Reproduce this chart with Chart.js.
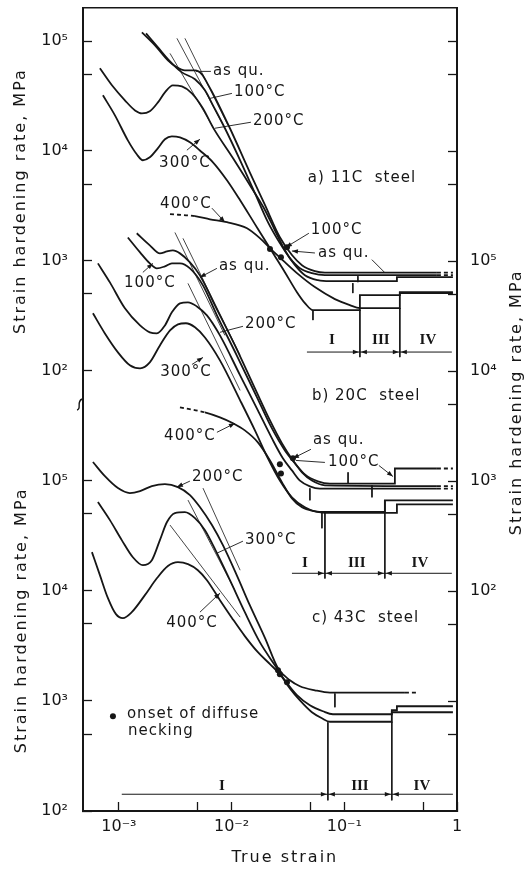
<!DOCTYPE html>
<html>
<head>
<meta charset="utf-8">
<title>Strain hardening rate vs true strain</title>
<script src="https://cdn.jsdelivr.net/npm/chart.js@4.4.1/dist/chart.umd.min.js"></script>
<style>
  body { margin: 0; background: #fff; }
  canvas { display: block; }
</style>
</head>
<body>
<canvas id="chart" width="527" height="869"></canvas>
<script>
const INK = '#161616';
const FONT = '"DejaVu Sans", sans-serif';

// tick values
const strainTicks = [1e-3, 5e-3, 1e-2, 5e-2, 1e-1, 5e-1, 1];
const leftTicks = [1e2, 5e2, 1e3, 5e3, 1e4, 5e4, 1e5];
const rightTicks = [5, 1e1, 5e1, 1e2, 5e2, 1e3, 5e3, 1e4, 5e4, 1e5, 5e5, 1e6, 5e6, 1e7];

// a) 11C steel  [true strain, hardening rate MPa]
const a_asQu = [[1.60e-3,1.20e5],[2.09e-3,9.14e4],[2.72e-3,6.68e4],[3.27e-3,5.77e4],[3.85e-3,5.41e4],[4.73e-3,5.41e4],[5.45e-3,4.98e4],[6.16e-3,4.04e4],[7.11e-3,3.08e4],[9.66e-3,1.61e4],[1.45e-2,6.40e3],[1.98e-2,3.21e3],[2.68e-2,1.64e3],[3.43e-2,1.13e3],[4.21e-2,914],[5.48e-2,806],[6.73e-2,781],[0.663,781],[0.92,781]];
const a_100 = [[1.74e-3,1.175e5],[2.22e-3,8.76e4],[2.84e-3,6.54e4],[3.62e-3,5.19e4],[4.73e-3,4.49e4],[5.80e-3,3.56e4],[6.83e-3,2.60e4],[8.72e-3,1.61e4],[1.19e-2,8.23e3],[1.61e-2,4.13e3],[2.10e-2,2.25e3],[2.68e-2,1.45e3],[3.29e-2,1.06e3],[4.04e-2,858],[5.16e-2,773],[6.73e-2,741],[0.663,741],[0.92,741]];
const a_200 = [[6.78e-4,5.65e4],[8.67e-4,3.96e4],[1.13e-3,2.89e4],[1.39e-3,2.34e4],[1.60e-3,2.20e4],[1.88e-3,2.30e4],[2.22e-3,2.77e4],[2.56e-3,3.42e4],[3.01e-3,3.96e4],[3.62e-3,3.87e4],[4.44e-3,3.35e4],[5.57e-3,2.44e4],[6.83e-3,1.64e4],[1.03e-2,8.58e3],[1.55e-2,4.39e3],[1.98e-2,2.89e3],[2.42e-2,1.90e3],[2.97e-2,1.25e3],[3.65e-2,914],[4.47e-2,741],[5.83e-2,668],[7.45e-2,654],[0.293,654],[0.293,711],[0.92,711]];
const a_300 = [[7.21e-4,3.21e4],[9.22e-4,2.11e4],[1.20e-3,1.25e4],[1.44e-3,9.33e3],[1.63e-3,8.23e3],[1.88e-3,8.76e3],[2.22e-3,1.06e4],[2.56e-3,1.28e4],[2.95e-3,1.36e4],[3.48e-3,1.33e4],[4.27e-3,1.20e4],[5.23e-3,1.01e4],[6.83e-3,7.89e3],[9.09e-3,5.42e3],[1.19e-2,3.56e3],[1.61e-2,2.16e3],[2.19e-2,1.30e3],[2.97e-2,789],[3.80e-2,519],[4.47e-2,413],[5.27e-2,356],[0.1375,356],[0.1375,488],[0.311,488],[0.311,519],[0.92,519]];
const a_400 = [[2.84e-3,2.66e3],[4.73e-3,2.55e3],[6.42e-3,2.39e3],[9.09e-3,2.25e3],[1.37e-2,1.98e3],[1.78e-2,1.61e3],[2.28e-2,1.25e3],[2.85e-2,1.01e3],[3.80e-2,773],[5.48e-2,577],[8.25e-2,449],[0.112,396],[0.1375,372],[0.311,372],[0.311,509],[0.92,509]];
const a_neck = [[2.19e-2,1.28e3],[2.74e-2,1.08e3],[3.10e-2,1.33e3]];
const a_tangents = [[2.84e-3,7.73e4],[7.11e-3,1.54e4],null,[3.27e-3,1.06e5],[8.72e-3,1.61e4],null,[3.85e-3,1.06e5],[9.27e-3,1.71e4]];
const a_guides = [[0.1375,356],[0.1375,133],null,[0.311,372],[0.311,133],null,[4.66e-2,148],[0.90,148],null,[0.132,726],[0.132,640],null,[0.119,627],[0.119,509],null,[5.27e-2,356],[5.27e-2,289]];

// b) 20C steel
const b_asQu = [[1.44e-3,1.79e5],[1.88e-3,1.39e5],[2.31e-3,1.175e5],[2.67e-3,1.225e5],[3.01e-3,1.25e5],[3.48e-3,1.175e5],[4.27e-3,9.73e4],[5.23e-3,7.41e4],[7.11e-3,3.96e4],[1.07e-2,1.71e4],[1.61e-2,6.96e3],[2.19e-2,3.56e3],[2.80e-2,2.20e3],[3.50e-2,1.54e3],[4.21e-2,1.20e3],[5.16e-2,1.01e3],[6.73e-2,914],[0.663,900],[0.92,900]];
const b_100 = [[1.20e-3,1.64e5],[1.54e-3,1.20e5],[1.88e-3,9.53e4],[2.17e-3,8.58e4],[2.56e-3,8.95e4],[2.95e-3,9.53e4],[3.48e-3,9.53e4],[4.27e-3,8.58e4],[5.57e-3,6.01e4],[7.41e-3,3.21e4],[1.11e-2,1.39e4],[1.68e-2,5.77e3],[2.28e-2,3.01e3],[2.97e-2,1.90e3],[3.65e-2,1.45e3],[4.47e-2,1.15e3],[5.83e-2,994],[7.45e-2,947],[0.281,947],[0.281,1.30e3],[0.663,1.30e3],[0.92,1.30e3]];
const b_200 = [[6.51e-4,9.53e4],[8.32e-4,6.40e4],[1.13e-3,3.72e4],[1.54e-3,2.60e4],[1.88e-3,2.25e4],[2.17e-3,2.20e4],[2.56e-3,2.60e4],[2.95e-3,3.42e4],[3.48e-3,4.13e4],[4.10e-3,4.22e4],[4.92e-3,3.87e4],[6.04e-3,3.21e4],[7.88e-3,2.11e4],[1.19e-2,9.14e3],[1.71e-2,4.39e3],[2.28e-2,2.44e3],[2.85e-2,1.61e3],[3.43e-2,1.25e3],[4.04e-2,1.01e3],[4.95e-2,895],[6.07e-2,853],[0.663,853],[0.92,853]];
const b_300 = [[5.88e-4,3.35e4],[7.51e-4,2.20e4],[9.80e-4,1.48e4],[1.25e-3,1.13e4],[1.54e-3,1.06e4],[1.88e-3,1.20e4],[2.31e-3,1.71e4],[2.84e-3,2.34e4],[3.34e-3,2.66e4],[3.93e-3,2.72e4],[4.73e-3,2.50e4],[5.80e-3,2.02e4],[7.88e-3,1.25e4],[1.19e-2,5.42e3],[1.61e-2,2.89e3],[2.10e-2,1.61e3],[2.68e-2,1.01e3],[3.43e-2,711],[4.47e-2,577],[6.07e-2,523],[0.229,523],[0.229,668],[0.92,668]];
const b_400 = [[3.48e-3,4.68e3],[5.80e-3,4.21e3],[7.88e-3,3.79e3],[1.03e-2,3.35e3],[1.31e-2,2.89e3],[1.71e-2,2.25e3],[2.19e-2,1.54e3],[2.80e-2,973],[3.43e-2,696],[4.21e-2,577],[5.48e-2,530],[6.73e-2,514],[0.293,514],[0.293,614],[0.92,614]];
const b_neck = [[2.68e-2,1.42e3],[2.74e-2,1.17e3],[3.50e-2,1.61e3]];
const b_tangents = [[3.14e-3,1.82e5],[8.72e-3,2.11e4],null,[3.70e-3,1.61e5],[1.19e-2,1.39e4],null,[4.10e-3,6.27e4],[1.19e-2,6.67e3]];
const b_guides = [[6.73e-2,519],[6.73e-2,130],null,[0.229,668],[0.229,130],null,[3.43e-2,145],[0.90,145],null,[0.108,1.20e3],[0.108,953],null,[0.176,914],[0.176,711],null,[4.95e-2,858],[4.95e-2,668],null,[6.33e-2,519],[6.33e-2,372]];

// c) 43C steel
const c_200 = [[5.88e-4,1.48e5],[7.51e-4,1.10e5],[9.80e-4,8.58e4],[1.25e-3,7.73e4],[1.54e-3,8.06e4],[1.96e-3,8.95e4],[2.56e-3,9.33e4],[3.34e-3,8.76e4],[4.27e-3,7.41e4],[5.23e-3,5.77e4],[6.69e-3,3.96e4],[8.37e-3,2.60e4],[1.11e-2,1.39e4],[1.45e-2,7.41e3],[1.98e-2,3.72e3],[2.58e-2,1.98e3],[3.29e-2,1.54e3],[4.04e-2,1.36e3],[5.48e-2,1.25e3],[7.45e-2,1.19e3],[0.345,1.19e3],[0.441,1.19e3]];
const c_300 = [[6.51e-4,6.40e4],[8.32e-4,4.39e4],[1.06e-3,2.89e4],[1.33e-3,2.02e4],[1.63e-3,1.71e4],[1.96e-3,1.90e4],[2.31e-3,2.89e4],[2.67e-3,4.22e4],[3.14e-3,5.09e4],[3.85e-3,5.19e4],[4.73e-3,4.58e4],[5.80e-3,3.56e4],[7.41e-3,2.20e4],[9.66e-3,1.25e4],[1.31e-2,6.40e3],[1.78e-2,3.42e3],[2.42e-2,2.11e3],[2.97e-2,1.54e3],[3.80e-2,1.13e3],[4.95e-2,914],[6.46e-2,806],[7.92e-2,757],[0.264,757],[0.264,823],[0.293,823],[0.293,895],[0.92,895]];
const c_400 = [[5.76e-4,2.25e4],[6.78e-4,1.39e4],[7.99e-4,8.58e3],[9.41e-4,6.14e3],[1.085e-3,5.65e3],[1.30e-3,6.40e3],[1.70e-3,9.14e3],[2.17e-3,1.30e4],[2.72e-3,1.68e4],[3.34e-3,1.82e4],[4.10e-3,1.75e4],[5.02e-3,1.54e4],[6.04e-3,1.25e4],[7.88e-3,8.23e3],[1.01e-2,5.65e3],[1.31e-2,3.88e3],[1.71e-2,2.77e3],[2.19e-2,2.16e3],[2.68e-2,1.75e3],[3.29e-2,1.30e3],[4.04e-2,1.01e3],[5.16e-2,789],[6.33e-2,696],[7.45e-2,647],[0.264,647],[0.264,789],[0.92,789]];
const c_neck = [[2.58e-2,1.90e3],[2.68e-2,1.75e3],[3.10e-2,1.48e3]];
const c_tangents = [[5.57e-3,8.58e4],[1.19e-2,1.54e4],null,[4.10e-3,6.68e4],[1.07e-2,1.01e4],null,[2.84e-3,3.96e4],[1.19e-2,5.77e3]];
const c_guides = [[7.15e-2,640],[7.15e-2,125],null,[0.264,647],[0.264,125],null,[1.06e-3,142],[0.92,142],null,[8.25e-2,1.17e3],[8.25e-2,876]];
const neckKey = [[8.85e-4,726]];

// stage regions: boundary strains and the level of the marker line
const stageNames = ['I', 'III', 'IV'];
const stagesA = { axis: 'yA', y: 148, bounds: [0.1375, 0.311], labelX: [7.76e-2, 0.211, 0.552], labelY: 190 };
const stagesB = { axis: 'yB', y: 145, bounds: [6.73e-2, 0.229], labelX: [4.47e-2, 0.129, 0.469], labelY: 179 };
const stagesC = { axis: 'yC', y: 142, bounds: [7.15e-2, 0.264], labelX: [8.2e-3, 0.1375, 0.488], labelY: 168 };

// labels: point on the curve, text offset and leader start (px)
const notes = [
  { axis: 'yA', at: [4.82e-3, 5.3e4], text: 'as qu.', dx: 17, dy: 0, lead: [15, 0] },
  { axis: 'yA', at: [6.42e-3, 3.01e4], text: '100°C', dx: 24, dy: -6, lead: [22, -5] },
  { axis: 'yA', at: [7.11e-3, 1.61e4], text: '200°C', dx: 38, dy: -7, lead: [36, -6] },
  { axis: 'yA', at: [5.23e-3, 1.28e4], text: '300°C', dx: -15, dy: 24, align: 'center', lead: [-13, 11], arrow: true },
  { axis: 'yA', at: [8.72e-3, 2.25e3], text: '400°C', dx: -39, dy: -18, align: 'center', lead: [-13, -14], arrow: true },
  { axis: 'yA', at: [3.03e-2, 1.33e3], text: '100°C', dx: 25, dy: -17, lead: [23, -14], arrow: true },
  { axis: 'yA', at: [3.43e-2, 1.23e3], text: 'as qu.', dx: 26, dy: 2, lead: [23, 2], arrow: true },
  { axis: 'yA', at: [0.229, 781], text: '', lead: [-13, -13] },
  { axis: 'yA', at: [4.75e-2, 5.65e3], text: 'a) 11C  steel' },

  { axis: 'yB', at: [2.0e-3, 9.53e4], text: '100°C', dx: -3, dy: 20, align: 'center', lead: [-10, 9], arrow: true },
  { axis: 'yB', at: [5.23e-3, 7.11e4], text: 'as qu.', dx: 19, dy: -11, lead: [17, -9], arrow: true },
  { axis: 'yB', at: [7.88e-3, 2.25e4], text: '200°C', dx: 25, dy: -8, lead: [23, -6] },
  { axis: 'yB', at: [5.57e-3, 1.33e4], text: '300°C', dx: -17, dy: 15, align: 'center', lead: [-11, 7], arrow: true },
  { axis: 'yB', at: [5.16e-2, 5.89e3], text: 'b) 20C  steel' },
  { axis: 'yB', at: [1.07e-2, 3.35e3], text: '400°C', dx: -45, dy: 13, align: 'center', lead: [-18, 9], arrow: true },
  { axis: 'yB', at: [3.5e-2, 1.61e3], text: 'as qu.', dx: 20, dy: -18, lead: [18, -9], arrow: true },
  { axis: 'yB', at: [3.72e-2, 1.54e3], text: '100°C', dx: 32, dy: 2, lead: [29, 2] },
  { axis: 'yB', at: [0.27, 1.10e3], text: '', lead: [-14, -11], arrow: true },

  { axis: 'yC', at: [3.27e-3, 8.76e4], text: '200°C', dx: 15, dy: -10, lead: [13, -6], arrow: true },
  { axis: 'yC', at: [7.41e-3, 2.2e4], text: '300°C', dx: 28, dy: -13, lead: [26, -12] },
  { axis: 'yC', at: [7.88e-3, 9.53e3], text: '400°C', dx: -28, dy: 30, align: 'center', lead: [-20, 19], arrow: true },
  { axis: 'yC', at: [5.16e-2, 5.65e3], text: 'c) 43C  steel' }
];

const SUP = { '-': '⁻', '0': '⁰', '1': '¹', '2': '²', '3': '³', '4': '⁴', '5': '⁵', '6': '⁶', '7': '⁷', '8': '⁸', '9': '⁹' };
function powLabel(v, lo, hi) {
  const e = Math.log10(v), n = Math.round(e);
  if (Math.abs(e - n) > 1e-6 || v < lo * 0.999 || v > hi * 1.001) return '';
  return n === 0 ? '1' : '10' + String(n).split('').map(c => SUP[c]).join('');
}

function toPoints(pts) {
  let lastX = pts[0][0];
  return pts.map(p => {
    if (!p) return { x: lastX, y: null };
    lastX = p[0];
    return { x: p[0], y: p[1] };
  });
}

function curve(pts, axis, head, tail) {
  const n = pts.length - 1;
  head = head || 0; tail = tail || 0;
  return {
    data: toPoints(pts), xAxisID: 'x', yAxisID: axis,
    borderColor: INK, borderWidth: 1.8, pointRadius: 0,
    cubicInterpolationMode: 'monotone',
    segment: { borderDash: ctx => (ctx.p0DataIndex < head || ctx.p0DataIndex >= n - tail) ? [4, 3] : undefined }
  };
}
function thin(pts, axis, width) {
  return { data: toPoints(pts), xAxisID: 'x', yAxisID: axis, borderColor: INK, borderWidth: width, pointRadius: 0, tension: 0 };
}
function dots(pts, axis) {
  return { data: toPoints(pts), xAxisID: 'x', yAxisID: axis, showLine: false, pointRadius: 3, pointBackgroundColor: INK, pointBorderColor: INK, pointBorderWidth: 0 };
}

function arrowHead(ctx, x0, y0, x1, y1, len, half) {
  const a = Math.atan2(y1 - y0, x1 - x0), c = Math.cos(a), s = Math.sin(a);
  ctx.beginPath();
  ctx.moveTo(x1, y1);
  ctx.lineTo(x1 - len * c + half * s, y1 - len * s - half * c);
  ctx.lineTo(x1 - len * c - half * s, y1 - len * s + half * c);
  ctx.closePath();
  ctx.fill();
}

// texts, leaders, stage marks and the axis break
const notesPlugin = {
  id: 'notes',
  afterDraw(chart) {
    const { ctx, scales } = chart;
    const sx = scales.x;
    ctx.save();
    ctx.fillStyle = INK;
    ctx.strokeStyle = INK;
    ctx.lineWidth = 0.9;
    ctx.textBaseline = 'middle';
    ctx.font = '15px ' + FONT;
    ctx.letterSpacing = '1px';

    notes.forEach(n => {
      const tx = sx.getPixelForValue(n.at[0]), ty = scales[n.axis].getPixelForValue(n.at[1]);
      if (n.lead) {
        const lx = tx + n.lead[0], ly = ty + n.lead[1];
        ctx.beginPath(); ctx.moveTo(lx, ly); ctx.lineTo(tx, ty); ctx.stroke();
        if (n.arrow) arrowHead(ctx, lx, ly, tx, ty, 6, 2.3);
      }
      if (n.text) {
        ctx.textAlign = n.align || 'left';
        ctx.fillText(n.text, tx + (n.dx || 0), ty + (n.dy || 0));
      }
    });

    // necking key
    const kx = sx.getPixelForValue(neckKey[0][0]), ky = scales.yC.getPixelForValue(neckKey[0][1]);
    ctx.textAlign = 'left';
    ctx.fillText('onset of diffuse', kx + 14, ky - 2);
    ctx.fillText('necking', kx + 15, ky + 15);

    // stage numerals and arrows
    ctx.font = 'bold 15px "Liberation Serif", serif';
    ctx.letterSpacing = '0px';
    ctx.textAlign = 'center';
    [stagesA, stagesB, stagesC].forEach(st => {
      const ys = scales[st.axis];
      const ly = ys.getPixelForValue(st.labelY);
      st.labelX.forEach((v, i) => ctx.fillText(stageNames[i], sx.getPixelForValue(v), ly));
      const ay = ys.getPixelForValue(st.y);
      st.bounds.forEach(b => {
        const bx = sx.getPixelForValue(b);
        arrowHead(ctx, bx - 9, ay, bx - 1, ay, 6, 2.2);
        arrowHead(ctx, bx + 9, ay, bx + 1, ay, 6, 2.2);
      });
    });

    // axis titles
    ctx.font = '16px ' + FONT;
    ctx.letterSpacing = '2px';
    const title = 'Strain hardening rate, MPa';
    const vText = (x, y) => {
      ctx.save(); ctx.translate(x, y); ctx.rotate(-Math.PI / 2);
      ctx.fillText(title, 0, 0); ctx.restore();
    };
    vText(scales.yA.left + 21, scales.yA.getPixelForValue(3.5e3));
    vText(scales.yC.left + 22, scales.yC.getPixelForValue(5.4e3));
    vText(scales.yB.right - 10, scales.yB.getPixelForValue(5.2e3));
    ctx.fillText('True strain', sx.getPixelForValue(2.97e-2), sx.bottom - 11);

    // break in the left axis between the two scales
    const bx = scales.yA.right, by = scales.yA.bottom;
    ctx.lineWidth = 1.4;
    ctx.beginPath();
    ctx.moveTo(bx - 6, by + 5);
    ctx.bezierCurveTo(bx - 1, by + 4, bx - 7, by - 3, bx - 1, by - 6);
    ctx.stroke();

    ctx.letterSpacing = '0px';
    ctx.restore();
  }
};

function fixTicks(list) {
  return scale => { scale.ticks = list.map(v => ({ value: v })); };
}
const gridOpts = { drawOnChartArea: false, drawTicks: true, tickLength: -9, tickWidth: 1.3, tickColor: INK };
const tickFont = { family: FONT, size: 16 };

Chart.defaults.font.family = FONT;
Chart.defaults.color = INK;

new Chart(document.getElementById('chart'), {
  type: 'line',
  data: {
    datasets: [
      curve(a_asQu, 'yA', 0, 1), curve(a_100, 'yA', 0, 1), curve(a_200, 'yA'), curve(a_300, 'yA'), curve(a_400, 'yA', 1, 0),
      curve(b_asQu, 'yB', 0, 1), curve(b_100, 'yB', 0, 1), curve(b_200, 'yB', 0, 1), curve(b_300, 'yB'), curve(b_400, 'yB', 1, 0),
      curve(c_200, 'yC', 0, 1), curve(c_300, 'yC'), curve(c_400, 'yC'),
      thin(a_tangents, 'yA', 0.8), thin(b_tangents, 'yB', 0.8), thin(c_tangents, 'yC', 0.8),
      thin(a_guides, 'yA', 1), thin(b_guides, 'yB', 1), thin(c_guides, 'yC', 1),
      dots(a_neck, 'yA'), dots(b_neck, 'yB'), dots(c_neck, 'yC'), dots(neckKey, 'yC')
    ]
  },
  options: {
    responsive: false,
    animation: false,
    events: [],
    layout: { padding: 0, autoPadding: false },
    plugins: { legend: { display: false }, tooltip: { enabled: false } },
    scales: {
      x: {
        type: 'logarithmic', position: 'bottom', min: 4.8e-4, max: 1, bounds: 'data',
        afterBuildTicks: fixTicks(strainTicks),
        afterFit: s => { s.height = 58; s.paddingLeft = 0; s.paddingRight = 0; },
        grid: gridOpts,
        border: { display: true, color: INK, width: 2 },
        ticks: { font: tickFont, color: INK, padding: 15, autoSkip: false, maxRotation: 0, callback: v => powLabel(v, 1e-3, 1) }
      },
      xTop: {
        type: 'linear', position: 'top', min: 0, max: 1,
        afterFit: s => { s.height = 8; s.paddingLeft = 0; s.paddingRight = 0; },
        grid: { drawOnChartArea: false, drawTicks: false },
        border: { display: true, color: INK, width: 1.5 },
        ticks: { display: false }
      },
      // upper and lower left scales share one column, split at the break
      yA: {
        type: 'logarithmic', position: 'left', stack: 'left', stackWeight: 397, weight: 1,
        min: 48.8, max: 2e5, bounds: 'data',
        afterBuildTicks: fixTicks(leftTicks),
        afterFit: s => { s.width = 83; s.paddingTop = 0; s.paddingBottom = 0; },
        grid: gridOpts,
        border: { display: true, color: INK, width: 2 },
        ticks: { font: tickFont, color: INK, padding: 24, autoSkip: false, callback: v => powLabel(v, 1e2, 1e5) }
      },
      yC: {
        type: 'logarithmic', position: 'left', stack: 'left', stackWeight: 406, weight: 0,
        min: 1e2, max: 4.88e5, bounds: 'data',
        afterBuildTicks: fixTicks(leftTicks),
        afterFit: s => { s.width = 83; s.paddingTop = 0; s.paddingBottom = 0; },
        grid: gridOpts,
        border: { display: true, color: INK, width: 2 },
        ticks: { font: tickFont, color: INK, padding: 24, autoSkip: false, callback: v => powLabel(v, 1e2, 1e5) }
      },
      yB: {
        type: 'logarithmic', position: 'right', min: 1, max: 2e7, bounds: 'data',
        afterBuildTicks: fixTicks(rightTicks),
        afterFit: s => { s.width = 70; s.paddingTop = 0; s.paddingBottom = 0; },
        grid: gridOpts,
        border: { display: true, color: INK, width: 2 },
        ticks: { font: tickFont, color: INK, padding: 22, autoSkip: false, callback: v => powLabel(v, 1e2, 1e5) }
      }
    }
  },
  plugins: [notesPlugin]
});
</script>
</body>
</html>
